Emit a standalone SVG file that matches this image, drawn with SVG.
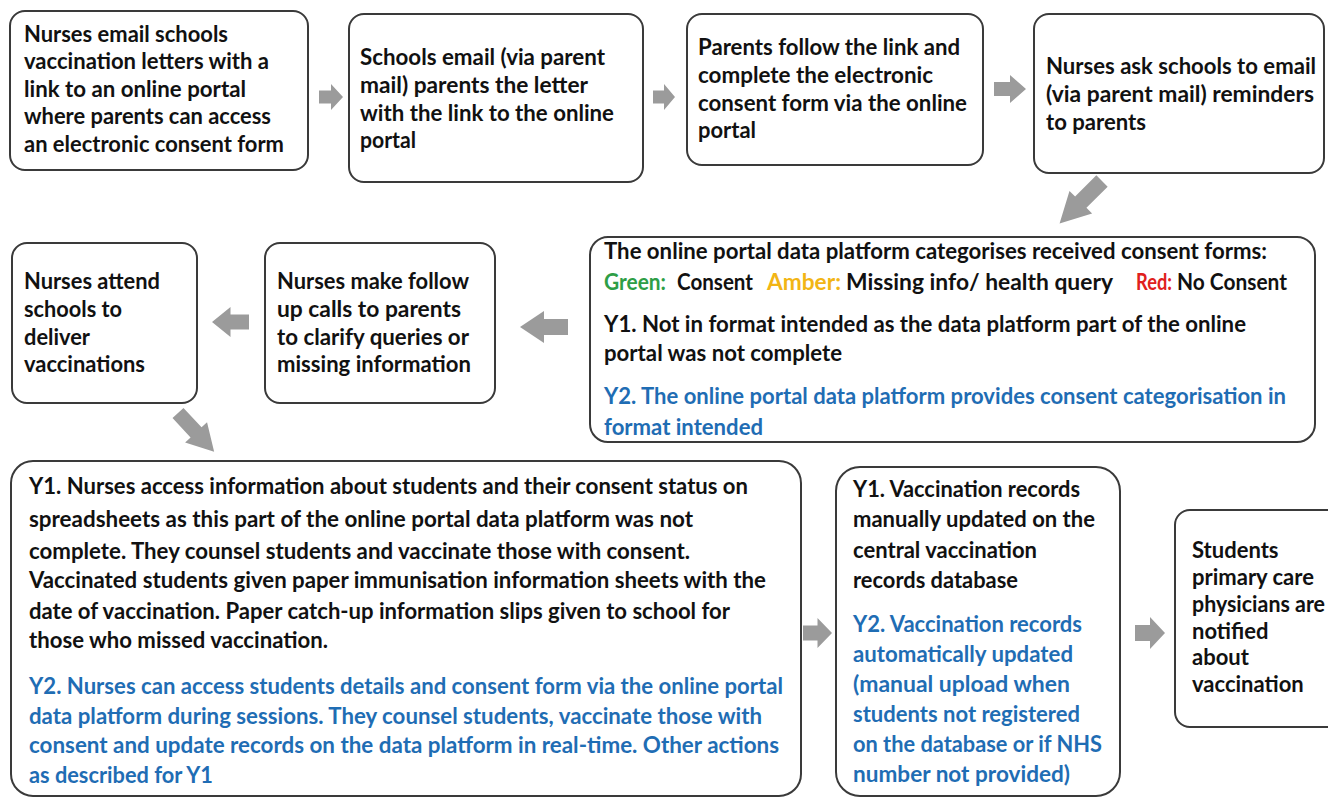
<svg xmlns="http://www.w3.org/2000/svg" width="1328" height="797" viewBox="0 0 1328 797">
<style>
.box{fill:#fff;stroke:#3a3a3a;stroke-width:2}
text{font-family:Lato,"Open Sans","Liberation Sans",sans-serif;font-weight:bold;font-size:22px;fill:#111}
.blue{fill:#1f6db4}
.green{fill:#2e9e46}
.amber{fill:#f2b515}
.red{fill:#e0201c}
.arr{fill:#9b9b9b}
</style>
<defs>
<path id="ar" d="M0,-0.5 H0.5 V-1 L1,0 L0.5,1 V0.5 H0 Z"/>
</defs>
<rect width="1328" height="797" fill="#fff"/>
<g id="n1"><rect class="box" x="10" y="11" width="298" height="159" rx="15"/>
<text x="24" y="42" textLength="204" lengthAdjust="spacingAndGlyphs">Nurses email schools</text>
<text x="24" y="69" textLength="245" lengthAdjust="spacingAndGlyphs">vaccination letters with a</text>
<text x="24" y="97" textLength="222" lengthAdjust="spacingAndGlyphs">link to an online portal</text>
<text x="24" y="124" textLength="247" lengthAdjust="spacingAndGlyphs">where parents can access</text>
<text x="24" y="152" textLength="260" lengthAdjust="spacingAndGlyphs">an electronic consent form</text></g>
<g id="n2"><rect class="box" x="349" y="14" width="294" height="168" rx="15"/>
<text x="360" y="65" textLength="245" lengthAdjust="spacingAndGlyphs">Schools email (via parent</text>
<text x="360" y="93" textLength="228" lengthAdjust="spacingAndGlyphs">mail) parents the letter</text>
<text x="360" y="121" textLength="254" lengthAdjust="spacingAndGlyphs">with the link to the online</text>
<text x="360" y="148" textLength="56" lengthAdjust="spacingAndGlyphs">portal</text></g>
<g id="n3"><rect class="box" x="687" y="14" width="296" height="151" rx="15"/>
<text x="698" y="55" textLength="262" lengthAdjust="spacingAndGlyphs">Parents follow the link and</text>
<text x="698" y="83" textLength="235" lengthAdjust="spacingAndGlyphs">complete the electronic</text>
<text x="698" y="111" textLength="269" lengthAdjust="spacingAndGlyphs">consent form via the online</text>
<text x="698" y="138" textLength="58" lengthAdjust="spacingAndGlyphs">portal</text></g>
<g id="n4"><rect class="box" x="1034" y="14" width="290" height="159" rx="15"/>
<text x="1046" y="74" textLength="270" lengthAdjust="spacingAndGlyphs">Nurses ask schools to email</text>
<text x="1046" y="102" textLength="268" lengthAdjust="spacingAndGlyphs">(via parent mail) reminders</text>
<text x="1046" y="130" textLength="100" lengthAdjust="spacingAndGlyphs">to parents</text></g>
<g id="n5"><rect class="box" x="590" y="237" width="725" height="205" rx="18"/>
<text x="604" y="259" textLength="663" lengthAdjust="spacingAndGlyphs">The online portal data platform categorises received consent forms:</text>
<text class="green" x="604" y="290" textLength="62" lengthAdjust="spacingAndGlyphs">Green:</text>
<text x="677" y="290" textLength="76" lengthAdjust="spacingAndGlyphs">Consent</text>
<text class="amber" x="767" y="290" textLength="74" lengthAdjust="spacingAndGlyphs">Amber:</text>
<text x="846" y="290" textLength="267" lengthAdjust="spacingAndGlyphs">Missing info/ health query</text>
<text class="red" x="1136" y="290" textLength="36" lengthAdjust="spacingAndGlyphs">Red:</text>
<text x="1177" y="290" textLength="110" lengthAdjust="spacingAndGlyphs">No Consent</text>
<text x="604" y="332" textLength="642" lengthAdjust="spacingAndGlyphs">Y1. Not in format intended as the data platform part of the online</text>
<text x="604" y="361" textLength="238" lengthAdjust="spacingAndGlyphs">portal was not complete</text>
<text class="blue" x="604" y="404" textLength="682" lengthAdjust="spacingAndGlyphs">Y2. The online portal data platform provides consent categorisation in</text>
<text class="blue" x="604" y="435" textLength="159" lengthAdjust="spacingAndGlyphs">format intended</text></g>
<g id="n6"><rect class="box" x="265" y="243" width="230" height="160" rx="15"/>
<text x="277" y="289" textLength="192" lengthAdjust="spacingAndGlyphs">Nurses make follow</text>
<text x="277" y="317" textLength="184" lengthAdjust="spacingAndGlyphs">up calls  to parents</text>
<text x="277" y="345" textLength="192" lengthAdjust="spacingAndGlyphs">to clarify queries or</text>
<text x="277" y="372" textLength="194" lengthAdjust="spacingAndGlyphs">missing information</text></g>
<g id="n7"><rect class="box" x="12" y="243" width="185" height="160" rx="15"/>
<text x="24" y="289" textLength="136" lengthAdjust="spacingAndGlyphs">Nurses attend</text>
<text x="24" y="317" textLength="98" lengthAdjust="spacingAndGlyphs">schools to</text>
<text x="24" y="345" textLength="66" lengthAdjust="spacingAndGlyphs">deliver</text>
<text x="24" y="372" textLength="121" lengthAdjust="spacingAndGlyphs">vaccinations</text></g>
<g id="n8"><rect class="box" x="11" y="461" width="790" height="335" rx="22"/>
<text x="29" y="494" textLength="719" lengthAdjust="spacingAndGlyphs">Y1. Nurses access information about students and their consent status on</text>
<text x="29" y="527" textLength="664" lengthAdjust="spacingAndGlyphs">spreadsheets as this part of the online portal data platform was not</text>
<text x="29" y="559" textLength="661" lengthAdjust="spacingAndGlyphs">complete. They counsel students and vaccinate those with consent.</text>
<text x="29" y="588" textLength="737" lengthAdjust="spacingAndGlyphs">Vaccinated students given paper immunisation information sheets with the</text>
<text x="29" y="619" textLength="701" lengthAdjust="spacingAndGlyphs">date of vaccination. Paper catch-up information slips given to school for</text>
<text x="29" y="648" textLength="299" lengthAdjust="spacingAndGlyphs">those who missed vaccination.</text>
<text class="blue" x="29" y="694" textLength="754" lengthAdjust="spacingAndGlyphs">Y2. Nurses can access students details and consent form via the online portal</text>
<text class="blue" x="29" y="724" textLength="733" lengthAdjust="spacingAndGlyphs">data platform during sessions. They counsel students, vaccinate those with</text>
<text class="blue" x="29" y="753" textLength="750" lengthAdjust="spacingAndGlyphs">consent and update records on the data platform in real-time.  Other actions</text>
<text class="blue" x="29" y="783" textLength="184" lengthAdjust="spacingAndGlyphs">as described for Y1</text></g>
<g id="n9"><rect class="box" x="836" y="467" width="284" height="329" rx="24"/>
<text x="853" y="497" textLength="227" lengthAdjust="spacingAndGlyphs">Y1. Vaccination records</text>
<text x="853" y="527" textLength="242" lengthAdjust="spacingAndGlyphs">manually updated on the</text>
<text x="853" y="558" textLength="184" lengthAdjust="spacingAndGlyphs">central vaccination</text>
<text x="853" y="588" textLength="165" lengthAdjust="spacingAndGlyphs">records database</text>
<text class="blue" x="853" y="632" textLength="229" lengthAdjust="spacingAndGlyphs">Y2. Vaccination records</text>
<text class="blue" x="853" y="662" textLength="220" lengthAdjust="spacingAndGlyphs">automatically updated</text>
<text class="blue" x="853" y="692" textLength="217" lengthAdjust="spacingAndGlyphs">(manual upload when</text>
<text class="blue" x="853" y="722" textLength="227" lengthAdjust="spacingAndGlyphs">students not registered</text>
<text class="blue" x="853" y="752" textLength="249" lengthAdjust="spacingAndGlyphs">on the database or if NHS</text>
<text class="blue" x="853" y="782" textLength="217" lengthAdjust="spacingAndGlyphs">number not provided)</text></g>
<g id="n10"><rect class="box" x="1175" y="510" width="170" height="217" rx="15"/>
<text x="1192" y="558">Students</text>
<text x="1192" y="585">primary care</text>
<text x="1192" y="612" textLength="133" lengthAdjust="spacingAndGlyphs">physicians are</text>
<text x="1192" y="639">notified</text>
<text x="1192" y="665">about</text>
<text x="1192" y="692">vaccination</text></g>
<g id="connectors" class="arr">
<use href="#ar" transform="translate(319,97) scale(24,13)"/>
<use href="#ar" transform="translate(653,97) scale(22,13)"/>
<use href="#ar" transform="translate(994,89) scale(32,14)"/>
<use href="#ar" transform="translate(1102,181) rotate(135) scale(60,16)"/>
<use href="#ar" transform="translate(568,327) rotate(180) scale(48,16)"/>
<use href="#ar" transform="translate(249,322) rotate(180) scale(37,15)"/>
<use href="#ar" transform="translate(178,413) rotate(47) scale(53,15)"/>
<use href="#ar" transform="translate(803,633) scale(29,15)"/>
<use href="#ar" transform="translate(1135,633) scale(30,16)"/>
</g>
</svg>
